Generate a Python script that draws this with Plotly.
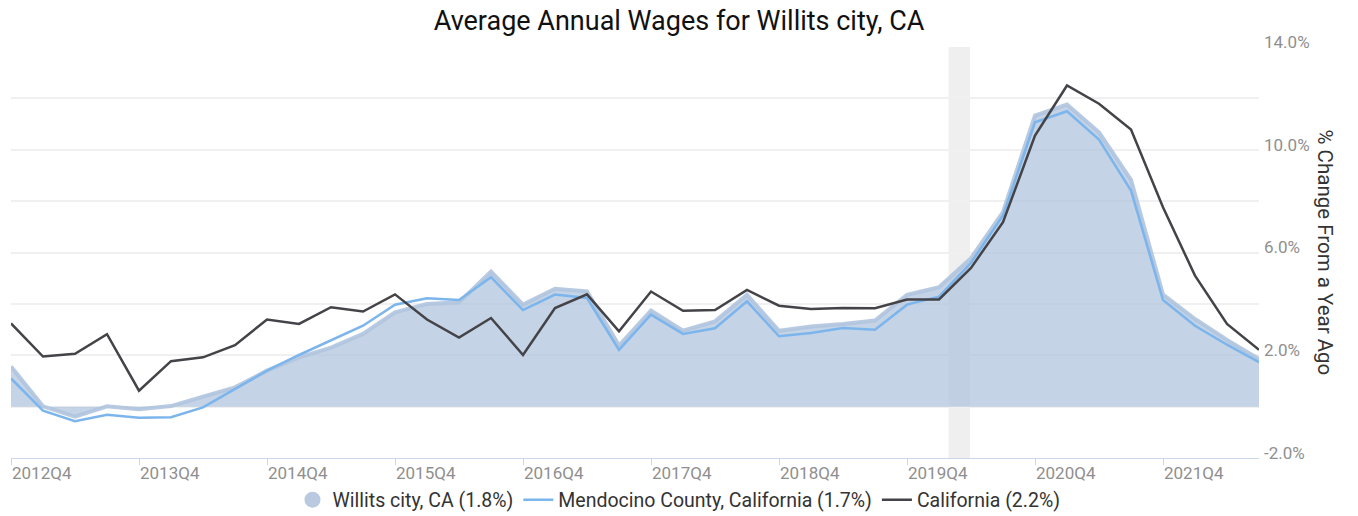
import plotly.graph_objects as go

quarters = []
for yr in range(2012, 2023):
    for q in range(1, 5):
        quarters.append(f"{yr}Q{q}")
quarters = quarters[quarters.index("2012Q4"):quarters.index("2022Q3") + 1]

willits = [1.56, 0.01, -0.39, 0.01, -0.10, 0.02, 0.39, 0.75, 1.40, 1.92,
           2.30, 2.83, 3.67, 4.00, 4.06, 5.26, 3.97, 4.59, 4.49, 2.38,
           3.74, 2.96, 3.32, 4.35, 2.95, 3.12, 3.22, 3.35, 4.35, 4.65,
           5.78, 7.57, 11.33, 11.76, 10.68, 8.83, 4.36, 3.41, 2.60, 1.85]
mendocino = [1.10, -0.16, -0.57, -0.32, -0.43, -0.41, -0.03, 0.69, 1.40, 2.01,
             2.58, 3.15, 3.97, 4.22, 4.15, 5.04, 3.76, 4.36, 4.23, 2.21,
             3.58, 2.83, 3.05, 4.10, 2.74, 2.87, 3.06, 2.99, 3.97, 4.28,
             5.60, 7.44, 11.07, 11.50, 10.40, 8.41, 4.15, 3.15, 2.41, 1.73]
california = [3.24, 1.95, 2.06, 2.82, 0.62, 1.77, 1.92, 2.39, 3.39, 3.22,
              3.87, 3.70, 4.37, 3.39, 2.69, 3.45, 2.01, 3.84, 4.37, 2.93,
              4.48, 3.73, 3.76, 4.54, 3.93, 3.80, 3.84, 3.83, 4.17, 4.17,
              5.40, 7.18, 10.55, 12.50, 11.79, 10.79, 7.76, 5.10, 3.22, 2.21]

names = ["Willits city, CA (1.8%)", "Mendocino County, California (1.7%)", "California (2.2%)"]
tick_quarters = quarters[::4]
y_ticks = [-2, 0, 2, 4, 6, 8, 10, 12, 14]
y_ticktext = ["-2.0%", "", "2.0%", "", "6.0%", "", "10.0%", "", "14.0%"]
recession = (29.3, 29.97)

FONT = "Roboto"

fig = go.Figure()
fig.add_trace(go.Scatter(
    x=quarters, y=willits, mode="lines", fill="tozeroy",
    fillcolor="rgba(176,196,222,0.75)",
    line=dict(color="rgba(176,196,222,0.9)", width=4),
    showlegend=False, name=names[0]))
fig.add_trace(go.Scatter(
    x=[None], y=[None], mode="markers", name=names[0],
    marker=dict(color="rgb(184,201,224)", size=16, symbol="circle")))
fig.add_trace(go.Scatter(
    x=quarters, y=mendocino, mode="lines", name=names[1],
    line=dict(color="#7cb5ec", width=2.5)))
fig.add_trace(go.Scatter(
    x=quarters, y=california, mode="lines", name=names[2],
    line=dict(color="#434348", width=2.5)))

fig.add_shape(type="rect", xref="x", yref="paper",
              x0=recession[0], x1=recession[1], y0=0, y1=1,
              fillcolor="#efefef", line=dict(width=0), layer="below")

fig.add_annotation(text="% Change From a Year Ago", xref="paper", yref="paper",
                   x=1, y=0.5, xshift=66, xanchor="center", yanchor="middle",
                   textangle=90, showarrow=False,
                   font=dict(family=FONT, size=20.5, color="#333333"))

fig.update_layout(
    width=1358, height=516,
    margin=dict(l=11, r=99, t=47, b=58, autoexpand=False),
    paper_bgcolor="white", plot_bgcolor="white",
    title=dict(text="Average Annual Wages for Willits city, CA",
               x=0.5, xanchor="center", y=1 - 21 / 516, yanchor="middle",
               font=dict(family=FONT, size=27, color="#111111")),
    font=dict(family=FONT),
    legend=dict(orientation="h", xref="container", yref="container",
                x=0.5, xanchor="center", y=16 / 516, yanchor="middle",
                font=dict(family=FONT, size=19.5, color="#333333"),
                itemwidth=30, tracegroupgap=0),
    xaxis=dict(type="category", range=[0, len(quarters) - 1], automargin=False,
               tickvals=tick_quarters, ticktext=tick_quarters,
               ticks="outside", ticklen=6, tickcolor="#ccd6eb",
               ticklabelposition="outside right",
               showline=True, linecolor="#ccd6eb", linewidth=1,
               showgrid=False, zeroline=False,
               tickfont=dict(family=FONT, size=17, color="#8f8f8f")),
    yaxis=dict(side="right", range=[-2, 14], tickvals=y_ticks, ticktext=y_ticktext,
               automargin=False,
               showgrid=True, gridcolor="#f0f0f0", gridwidth=1.5,
               zeroline=False, ticks="", ticklabelshift=-5, ticklabelstandoff=4,
               tickfont=dict(family=FONT, size=17, color="#8f8f8f")),
)

fig.write_html("out.html", config={"displayModeBar": False},
               post_script="document.body.style.margin='0';document.body.style.overflow='hidden';")
